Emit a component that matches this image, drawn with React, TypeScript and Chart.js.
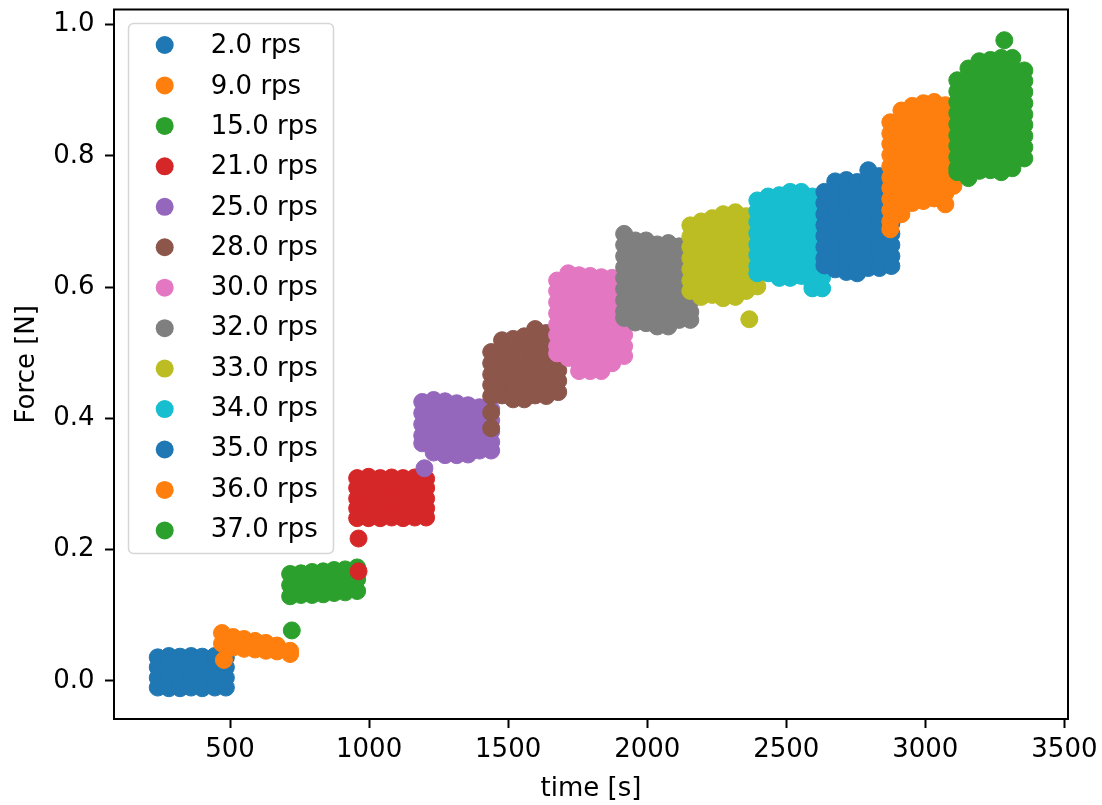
import React, { useEffect, useRef } from "react";
import { Chart, registerables } from "chart.js";

Chart.register(...registerables);

// ---- data ----
const seriesLabels = [
  "2.0 rps", "9.0 rps", "15.0 rps", "21.0 rps", "25.0 rps", "28.0 rps", "30.0 rps",
  "32.0 rps", "33.0 rps", "34.0 rps", "35.0 rps", "36.0 rps", "37.0 rps",
];
const seriesColors = [
  "#1f77b4", "#ff7f0e", "#2ca02c", "#d62728", "#9467bd", "#8c564b", "#e377c2",
  "#7f7f7f", "#bcbd22", "#17becf", "#1f77b4", "#ff7f0e", "#2ca02c",
];
const xTicks = [500, 1000, 1500, 2000, 2500, 3000, 3500];
const yTicks = [0.0, 0.2, 0.4, 0.6, 0.8, 1.0];
const xLimits = [82.7, 3513];
const yLimits = [-0.0579, 1.0228];

// each entry: [time, [force samples at that time]]
type Col = [number, number[]];

const rps02: Col[] = [
  [240, [0.036, 0.021, 0.005, -0.010]],
  [280, [0.038, 0.022, 0.006, -0.011]],
  [320, [0.037, 0.021, 0.005, -0.011]],
  [360, [0.038, 0.022, 0.006, -0.010]],
  [400, [0.037, 0.021, 0.005, -0.011]],
  [445, [0.038, 0.022, 0.006, -0.010]],
  [485, [0.036, 0.021, 0.005, -0.010]],
];
const rps09: Col[] = [
  [471, [0.073, 0.057]],
  [478, [0.032]],
  [511, [0.067, 0.051]],
  [550, [0.064, 0.049]],
  [590, [0.061, 0.048]],
  [629, [0.058, 0.046]],
  [669, [0.054, 0.045]],
  [716, [0.046, 0.041]],
];
const rps15: Col[] = [
  [716, [0.163, 0.146, 0.129]],
  [722, [0.077]],
  [755, [0.164, 0.147, 0.131]],
  [795, [0.166, 0.149, 0.131]],
  [835, [0.167, 0.150, 0.132]],
  [874, [0.169, 0.152, 0.134]],
  [914, [0.170, 0.153, 0.135]],
  [957, [0.173, 0.155, 0.137]],
];
const rps21: Col[] = [
  [957, [0.309, 0.294, 0.278, 0.263, 0.248]],
  [962, [0.217, 0.167]],
  [998, [0.311, 0.294, 0.278, 0.263, 0.248]],
  [1040, [0.309, 0.294, 0.278, 0.263, 0.248]],
  [1081, [0.310, 0.294, 0.278, 0.263, 0.249]],
  [1122, [0.309, 0.294, 0.278, 0.263, 0.248]],
  [1164, [0.310, 0.294, 0.278, 0.263, 0.249]],
  [1205, [0.308, 0.294, 0.278, 0.263, 0.249]],
];
const rps25: Col[] = [
  [1191, [0.425, 0.408, 0.391, 0.374, 0.362]],
  [1199, [0.324]],
  [1232, [0.428, 0.411, 0.394, 0.377, 0.359, 0.348]],
  [1273, [0.426, 0.409, 0.393, 0.376, 0.359, 0.344]],
  [1315, [0.423, 0.406, 0.390, 0.373, 0.356, 0.344]],
  [1356, [0.420, 0.403, 0.387, 0.370, 0.355, 0.345]],
  [1397, [0.417, 0.400, 0.383, 0.367, 0.351]],
  [1439, [0.414, 0.397, 0.380, 0.364, 0.351]],
];
const rps28: Col[] = [
  [1439, [0.501, 0.484, 0.467, 0.451, 0.434, 0.409, 0.385]],
  [1478, [0.519, 0.502, 0.486, 0.469, 0.452, 0.435]],
  [1518, [0.521, 0.504, 0.487, 0.470, 0.454, 0.437, 0.429]],
  [1558, [0.525, 0.508, 0.492, 0.475, 0.458, 0.441, 0.429]],
  [1597, [0.536, 0.519, 0.502, 0.486, 0.469, 0.452, 0.435]],
  [1637, [0.530, 0.513, 0.496, 0.479, 0.463, 0.446, 0.434]],
  [1680, [0.524, 0.507, 0.490, 0.473, 0.457, 0.440]],
];
const rps30: Col[] = [
  [1676, [0.610, 0.594, 0.577, 0.560, 0.543, 0.527, 0.510, 0.499]],
  [1716, [0.621, 0.604, 0.588, 0.571, 0.554, 0.537, 0.521, 0.504, 0.492]],
  [1755, [0.618, 0.601, 0.585, 0.568, 0.551, 0.534, 0.518, 0.501, 0.484, 0.472]],
  [1795, [0.617, 0.600, 0.583, 0.566, 0.550, 0.533, 0.516, 0.499, 0.483, 0.472]],
  [1835, [0.615, 0.598, 0.582, 0.565, 0.548, 0.531, 0.514, 0.498, 0.483, 0.472]],
  [1874, [0.614, 0.597, 0.580, 0.563, 0.546, 0.530, 0.513, 0.496, 0.484]],
  [1917, [0.610, 0.594, 0.577, 0.560, 0.543, 0.527, 0.510, 0.495]],
];
const rps32: Col[] = [
  [1917, [0.681, 0.664, 0.647, 0.630, 0.614, 0.597, 0.580, 0.563, 0.553]],
  [1957, [0.671, 0.655, 0.638, 0.621, 0.604, 0.588, 0.571, 0.554, 0.546]],
  [1996, [0.671, 0.655, 0.638, 0.621, 0.604, 0.588, 0.571, 0.554, 0.545]],
  [2036, [0.665, 0.649, 0.632, 0.615, 0.598, 0.582, 0.565, 0.548, 0.540]],
  [2076, [0.667, 0.650, 0.633, 0.617, 0.600, 0.583, 0.566, 0.550, 0.540]],
  [2115, [0.662, 0.645, 0.629, 0.612, 0.595, 0.578, 0.562, 0.550]],
  [2155, [0.662, 0.645, 0.629, 0.612, 0.595, 0.578, 0.562, 0.550]],
];
const rps33: Col[] = [
  [2155, [0.694, 0.677, 0.661, 0.644, 0.627, 0.610, 0.594]],
  [2194, [0.700, 0.684, 0.667, 0.650, 0.633, 0.617, 0.600, 0.585]],
  [2234, [0.705, 0.688, 0.671, 0.655, 0.638, 0.621, 0.604, 0.588]],
  [2273, [0.711, 0.694, 0.677, 0.661, 0.644, 0.627, 0.610, 0.594, 0.583]],
  [2317, [0.714, 0.697, 0.681, 0.664, 0.647, 0.630, 0.614, 0.597, 0.585]],
  [2356, [0.708, 0.691, 0.674, 0.658, 0.641, 0.624, 0.607, 0.594]],
  [2367, [0.551]],
  [2396, [0.702, 0.685, 0.668, 0.652, 0.635, 0.618, 0.601]],
];
const rps34: Col[] = [
  [2396, [0.732, 0.716, 0.699, 0.682, 0.665, 0.649, 0.632, 0.621]],
  [2435, [0.738, 0.722, 0.705, 0.688, 0.671, 0.655, 0.638, 0.621]],
  [2475, [0.740, 0.723, 0.706, 0.690, 0.673, 0.656, 0.639, 0.623, 0.614]],
  [2514, [0.745, 0.728, 0.711, 0.694, 0.678, 0.661, 0.644, 0.627, 0.614]],
  [2554, [0.745, 0.728, 0.711, 0.694, 0.678, 0.661, 0.644, 0.627, 0.617]],
  [2594, [0.738, 0.722, 0.705, 0.688, 0.671, 0.655, 0.638, 0.621, 0.604, 0.598]],
  [2629, [0.732, 0.716, 0.699, 0.682, 0.665, 0.649, 0.632, 0.615, 0.598]],
];
const rps35: Col[] = [
  [2637, [0.745, 0.728, 0.711, 0.694, 0.678, 0.661, 0.644, 0.633]],
  [2676, [0.761, 0.745, 0.728, 0.711, 0.694, 0.678, 0.661, 0.644, 0.627]],
  [2716, [0.763, 0.746, 0.729, 0.713, 0.696, 0.679, 0.662, 0.645, 0.629, 0.623]],
  [2755, [0.760, 0.743, 0.726, 0.710, 0.693, 0.676, 0.659, 0.642, 0.626, 0.621]],
  [2795, [0.778, 0.761, 0.745, 0.728, 0.711, 0.694, 0.678, 0.661, 0.644, 0.629]],
  [2835, [0.769, 0.752, 0.735, 0.719, 0.702, 0.685, 0.668, 0.652, 0.635, 0.629]],
  [2878, [0.748, 0.731, 0.714, 0.697, 0.681, 0.664, 0.647, 0.632]],
];
const rps36: Col[] = [
  [2874, [0.851, 0.834, 0.818, 0.801, 0.784, 0.767, 0.751, 0.734, 0.717, 0.700, 0.688]],
  [2914, [0.869, 0.853, 0.836, 0.819, 0.802, 0.786, 0.769, 0.752, 0.735, 0.719, 0.711]],
  [2953, [0.876, 0.859, 0.842, 0.825, 0.809, 0.792, 0.775, 0.758, 0.742, 0.728]],
  [2993, [0.880, 0.863, 0.847, 0.830, 0.813, 0.796, 0.780, 0.763, 0.746, 0.731]],
  [3032, [0.882, 0.865, 0.848, 0.831, 0.815, 0.798, 0.781, 0.764, 0.748, 0.735]],
  [3072, [0.877, 0.860, 0.844, 0.827, 0.810, 0.793, 0.777, 0.760, 0.743, 0.726]],
  [3101, [0.869, 0.853, 0.836, 0.819, 0.802, 0.786, 0.769, 0.754]],
];
const rps37: Col[] = [
  [3115, [0.915, 0.898, 0.882, 0.865, 0.848, 0.831, 0.815, 0.798, 0.781, 0.775]],
  [3155, [0.933, 0.917, 0.900, 0.883, 0.866, 0.850, 0.833, 0.816, 0.799, 0.783, 0.766]],
  [3194, [0.944, 0.927, 0.911, 0.894, 0.877, 0.860, 0.844, 0.827, 0.810, 0.793, 0.777]],
  [3234, [0.946, 0.929, 0.912, 0.895, 0.879, 0.862, 0.845, 0.828, 0.812, 0.795, 0.778]],
  [3273, [0.949, 0.932, 0.915, 0.898, 0.882, 0.865, 0.848, 0.831, 0.815, 0.798, 0.781, 0.775]],
  [3284, [0.976]],
  [3313, [0.949, 0.932, 0.915, 0.898, 0.882, 0.865, 0.848, 0.831, 0.815, 0.798, 0.781]],
  [3356, [0.930, 0.914, 0.897, 0.880, 0.863, 0.847, 0.830, 0.813, 0.796]],
];

const seriesData: Col[][] = [
  rps02, rps09, rps15, rps21, rps25, rps28, rps30, rps32, rps33, rps34, rps35, rps36, rps37,
];

// ---- styling ----
const FONT_FAMILY = "'DejaVu Sans', 'Liberation Sans', sans-serif";
const FONT_SIZE = 26;
const font = { family: FONT_FAMILY, size: FONT_SIZE };

const frameAndLegend = {
  id: "frameAndLegend",
  afterDraw(chart: any) {
    const { ctx, chartArea: a } = chart;
    ctx.save();
    // full axes frame (top/right spines)
    ctx.strokeStyle = "#000";
    ctx.lineWidth = 2;
    ctx.strokeRect(a.left, a.top, a.right - a.left, a.bottom - a.top);

    // legend box
    const bx = 128.5, by = 23.5, bw = 205, bh = 530, r = 5;
    ctx.beginPath();
    ctx.moveTo(bx + r, by);
    ctx.lineTo(bx + bw - r, by);
    ctx.arcTo(bx + bw, by, bx + bw, by + r, r);
    ctx.lineTo(bx + bw, by + bh - r);
    ctx.arcTo(bx + bw, by + bh, bx + bw - r, by + bh, r);
    ctx.lineTo(bx + r, by + bh);
    ctx.arcTo(bx, by + bh, bx, by + bh - r, r);
    ctx.lineTo(bx, by + r);
    ctx.arcTo(bx, by, bx + r, by, r);
    ctx.closePath();
    ctx.fillStyle = "rgba(255,255,255,0.8)";
    ctx.fill();
    ctx.strokeStyle = "#d6d6d6";
    ctx.lineWidth = 1.5;
    ctx.stroke();

    ctx.font = `${FONT_SIZE}px ${FONT_FAMILY}`;
    ctx.textAlign = "left";
    ctx.textBaseline = "alphabetic";
    chart.data.datasets.forEach((ds: any, i: number) => {
      const my = 45 + 40.45 * i;
      ctx.beginPath();
      ctx.arc(164.7, my, 9, 0, Math.PI * 2);
      ctx.fillStyle = ds.backgroundColor;
      ctx.fill();
      ctx.fillStyle = "#000";
      ctx.fillText(ds.label, 210.8, 53.3 + 40.3 * i);
    });
    ctx.restore();
  },
};

export default function App() {
  const canvasRef = useRef<HTMLCanvasElement | null>(null);

  useEffect(() => {
    const canvas = canvasRef.current;
    if (!canvas) return;
    const n = seriesData.length;
    const datasets = seriesData.map((cols, i) => ({
      label: seriesLabels[i],
      data: cols.flatMap(([t, fs]) => fs.map((f) => ({ x: t, y: f }))),
      backgroundColor: seriesColors[i],
      borderColor: seriesColors[i],
      borderWidth: 1,
      pointRadius: 8.5,
      pointHoverRadius: 8.5,
      order: n - 1 - i,
    }));

    const chart = new Chart(canvas, {
      type: "scatter",
      data: { datasets },
      options: {
        animation: false,
        responsive: false,
        devicePixelRatio: 1,
        events: [],
        layout: { padding: { left: 0, top: 9, right: 34, bottom: 0 } },
        plugins: {
          legend: { display: false },
          tooltip: { enabled: false },
        },
        scales: {
          x: {
            type: "linear",
            position: "bottom",
            min: xLimits[0],
            max: xLimits[1],
            afterBuildTicks: (s: any) => {
              s.ticks = xTicks.map((v) => ({ value: v }));
            },
            afterFit: (s: any) => {
              s.height = 86;
              s.paddingLeft = 0;
              s.paddingRight = 0;
            },
            ticks: {
              font,
              color: "#000",
              padding: 6.9,
              maxRotation: 0,
              autoSkip: false,
              callback: (v: any) => String(v),
            },
            grid: {
              display: true,
              drawOnChartArea: false,
              drawTicks: true,
              tickLength: 9,
              tickWidth: 2,
              tickColor: "#000",
            },
            border: { display: true, color: "#000", width: 2 },
            title: {
              display: true,
              text: "time [s]",
              font,
              color: "#000",
              padding: { top: 0, bottom: 0.4 },
            },
          },
          y: {
            type: "linear",
            position: "left",
            min: yLimits[0],
            max: yLimits[1],
            afterBuildTicks: (s: any) => {
              s.ticks = yTicks.map((v) => ({ value: v }));
            },
            afterFit: (s: any) => {
              s.width = 114;
              s.paddingTop = 0;
              s.paddingBottom = 0;
            },
            ticks: {
              font,
              color: "#000",
              padding: 10.5,
              autoSkip: false,
              callback: (v: any) => Number(v).toFixed(1),
            },
            grid: {
              display: true,
              drawOnChartArea: false,
              drawTicks: true,
              tickLength: 9,
              tickWidth: 2,
              tickColor: "#000",
            },
            border: { display: true, color: "#000", width: 2 },
            title: {
              display: true,
              text: "Force [N]",
              font,
              color: "#000",
              padding: { top: 11.7, bottom: 0 },
            },
          },
        },
      },
      plugins: [frameAndLegend],
    } as any);

    return () => chart.destroy();
  }, []);

  return (
    <div
      style={{
        position: "fixed",
        left: 0,
        top: 0,
        width: 1102,
        height: 805,
        background: "#fff",
      }}
    >
      <canvas
        ref={canvasRef}
        width={1102}
        height={805}
        style={{ display: "block", width: 1102, height: 805 }}
      />
    </div>
  );
}
